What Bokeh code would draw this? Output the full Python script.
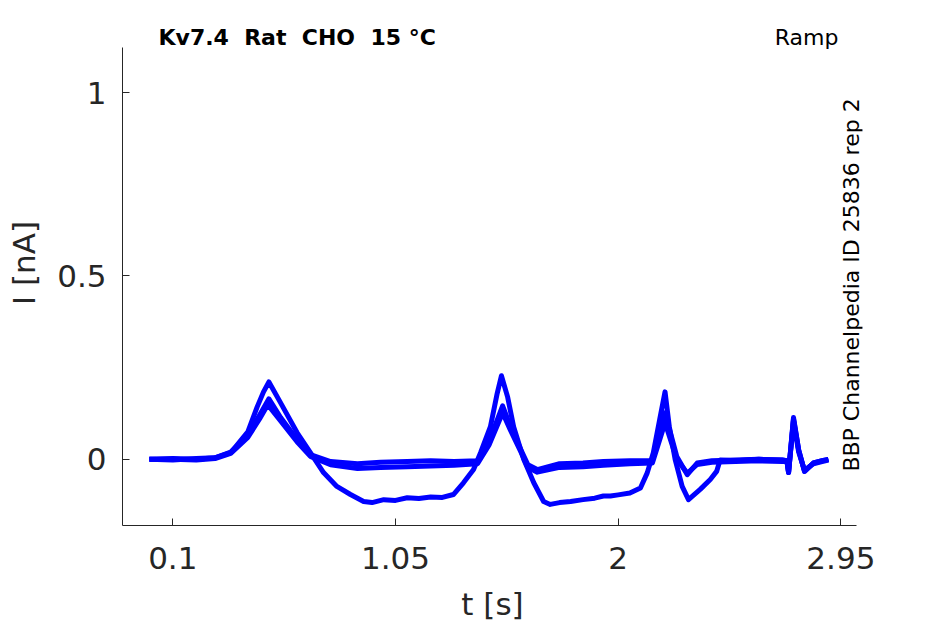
from bokeh.plotting import figure
from bokeh.models import Range1d, FixedTicker
from bokeh.core.properties import value
from bokeh.embed import file_html
from bokeh.resources import INLINE

# ---- data ----
t_a = [0.0, 0.1, 0.2, 0.28, 0.347, 0.42, 0.46, 0.487, 0.51, 0.56, 0.63, 0.687, 0.743, 0.80, 0.858,
       0.914, 0.95, 1.0, 1.05, 1.1, 1.15, 1.2, 1.25, 1.297, 1.34, 1.383, 1.413, 1.455, 1.484, 1.502,
       1.528, 1.554, 1.597, 1.64, 1.682, 1.71, 1.75, 1.797, 1.85, 1.9, 1.937, 1.967, 2.0, 2.05, 2.095,
       2.124, 2.15, 2.177, 2.2, 2.218, 2.243, 2.273, 2.3, 2.35, 2.393, 2.42, 2.435, 2.5, 2.6, 2.7,
       2.72, 2.727, 2.748, 2.77, 2.795, 2.833, 2.87, 2.897]
i_a = [0.0, 0.002, 0.0, 0.004, 0.018, 0.075, 0.143, 0.184, 0.211, 0.154, 0.073, 0.018, -0.036, -0.074, -0.096,
       -0.115, -0.118, -0.110, -0.112, -0.105, -0.107, -0.103, -0.104, -0.096, -0.064, -0.028, 0.018, 0.089, 0.18, 0.228,
       0.171, 0.089, 0.0, -0.064, -0.115, -0.123, -0.118, -0.115, -0.110, -0.106, -0.100, -0.100, -0.097, -0.092, -0.078,
       -0.037, 0.018, 0.108, 0.184, 0.09, 0.0, -0.074, -0.11, -0.082, -0.055, -0.033, -0.002, -0.004, 0.0, -0.002,
       -0.004, -0.036, 0.114, 0.026, -0.033, -0.010, -0.004, 0.0]

t_b = [0.0, 0.1, 0.2, 0.28, 0.347, 0.42, 0.47, 0.51, 0.56, 0.63, 0.687, 0.773, 0.888, 0.986, 1.1,
       1.2, 1.3, 1.40, 1.45, 1.507, 1.54, 1.585, 1.615, 1.655, 1.75, 1.85, 1.937, 2.05, 2.146, 2.2,
       2.25, 2.295, 2.337, 2.4, 2.5, 2.6, 2.7, 2.72, 2.727, 2.748, 2.77, 2.795, 2.833, 2.87, 2.897]
i_b = [0.0, -0.002, 0.002, 0.004, 0.02, 0.065, 0.12, 0.165, 0.114, 0.054, 0.013, -0.006, -0.012, -0.008, -0.006,
       -0.004, -0.006, -0.004, 0.05, 0.146, 0.09, 0.026, -0.015, -0.028, -0.012, -0.010, -0.006, -0.004, -0.004, 0.127,
       0.008, -0.042, -0.010, -0.004, -0.002, 0.0, -0.002, -0.004, -0.036, 0.110, 0.026, -0.033, -0.010, -0.004, 0.0]

t_c = [0.0, 0.1, 0.2, 0.28, 0.347, 0.42, 0.47, 0.505, 0.56, 0.63, 0.687, 0.773, 0.888, 0.986, 1.1,
       1.2, 1.3, 1.40, 1.45, 1.507, 1.54, 1.585, 1.615, 1.655, 1.75, 1.85, 1.937, 2.05, 2.146, 2.2,
       2.25, 2.295, 2.337, 2.4, 2.5, 2.6, 2.7, 2.72, 2.727, 2.748, 2.77, 2.795, 2.833, 2.87, 2.897]
i_c = [0.0, 0.0, -0.002, 0.002, 0.016, 0.06, 0.11, 0.149, 0.105, 0.048, 0.008, -0.015, -0.025, -0.022, -0.020,
       -0.018, -0.016, -0.012, 0.04, 0.127, 0.08, 0.02, -0.022, -0.035, -0.022, -0.020, -0.016, -0.012, -0.010, 0.10,
       0.0, -0.038, -0.014, -0.008, -0.006, -0.004, -0.006, -0.006, -0.036, 0.105, 0.02, -0.030, -0.012, -0.006, -0.002]

x_ticks = [0.1, 1.05, 2, 2.95]
x_tick_labels = ["0.1", "1.05", "2", "2.95"]
y_ticks = [0, 0.5, 1]
y_tick_labels = ["0", "0.5", "1"]

NB = "\u00a0"
title_text = "Kv7.4" + NB * 2 + "Rat" + NB * 2 + "CHO" + NB * 2 + "15 °C"
protocol_text = "Ramp"
side_text = "BBP Channelpedia ID 25836 rep 2"
x_label = "t [s]"
y_label = "I [nA]"

FONT = "DejaVu Sans"
AX = "#262626"
BLUE = "#0000ff"

# axis extents (data); the view reaches a little beyond them for the texts
X_AX = (-0.1146, 3.017)
Y_AX = (-0.1805, 1.123)

p = figure(width=945, height=624, output_backend="svg", toolbar_location=None,
           x_range=Range1d(X_AX[0], 3.0424), y_range=Range1d(Y_AX[0], 1.2513),
           min_border_left=122, min_border_right=83, min_border_top=0, min_border_bottom=98)
p.outline_line_color = None
p.grid.grid_line_color = None
p.background_fill_color = "white"
p.border_fill_color = "white"

for ax in (p.xaxis[0], p.yaxis[0]):
    ax.axis_line_color = AX
    ax.axis_line_width = 1
    ax.major_tick_line_color = AX
    ax.major_tick_in = 7
    ax.major_tick_out = 0
    ax.minor_tick_line_color = None
    ax.major_label_text_font = FONT
    ax.major_label_text_font_size = "31px"
    ax.major_label_text_color = AX
    ax.axis_label_text_font = FONT
    ax.axis_label_text_font_size = "31px"
    ax.axis_label_text_font_style = "normal"
    ax.axis_label_text_color = AX

p.xaxis[0].bounds = X_AX
p.xaxis[0].ticker = FixedTicker(ticks=x_ticks)
p.xaxis[0].major_label_overrides = dict(zip(x_ticks, x_tick_labels))
p.xaxis[0].major_label_standoff = 21
p.xaxis[0].axis_label = x_label
p.xaxis[0].axis_label_standoff = 14
p.yaxis[0].bounds = Y_AX
p.yaxis[0].ticker = FixedTicker(ticks=y_ticks)
p.yaxis[0].major_label_overrides = dict(zip(y_ticks, y_tick_labels))
p.yaxis[0].major_label_standoff = 16
p.yaxis[0].axis_label = y_label
p.yaxis[0].axis_label_standoff = 12

for tt, ii in ((t_a, i_a), (t_b, i_b), (t_c, i_c)):
    p.line(tt, ii, line_color=BLUE, line_width=5, line_join="round")

p.text(x=[0.039], y=[1.1495], text=[title_text], text_font=value(FONT), text_font_style="bold",
       text_font_size="22px", text_color="black", text_align="left", text_baseline="alphabetic")
p.text(x=[2.940], y=[1.1495], text=[protocol_text], text_font=value(FONT),
       text_font_size="22px", text_color="black", text_align="right", text_baseline="alphabetic")
p.text(x=[2.9934], y=[-0.0335], text=[side_text], text_font=value(FONT), angle=1.5708,
       text_font_size="22px", text_color="black", text_align="left", text_baseline="alphabetic")

open("out.html", "w").write(file_html(p, INLINE))
